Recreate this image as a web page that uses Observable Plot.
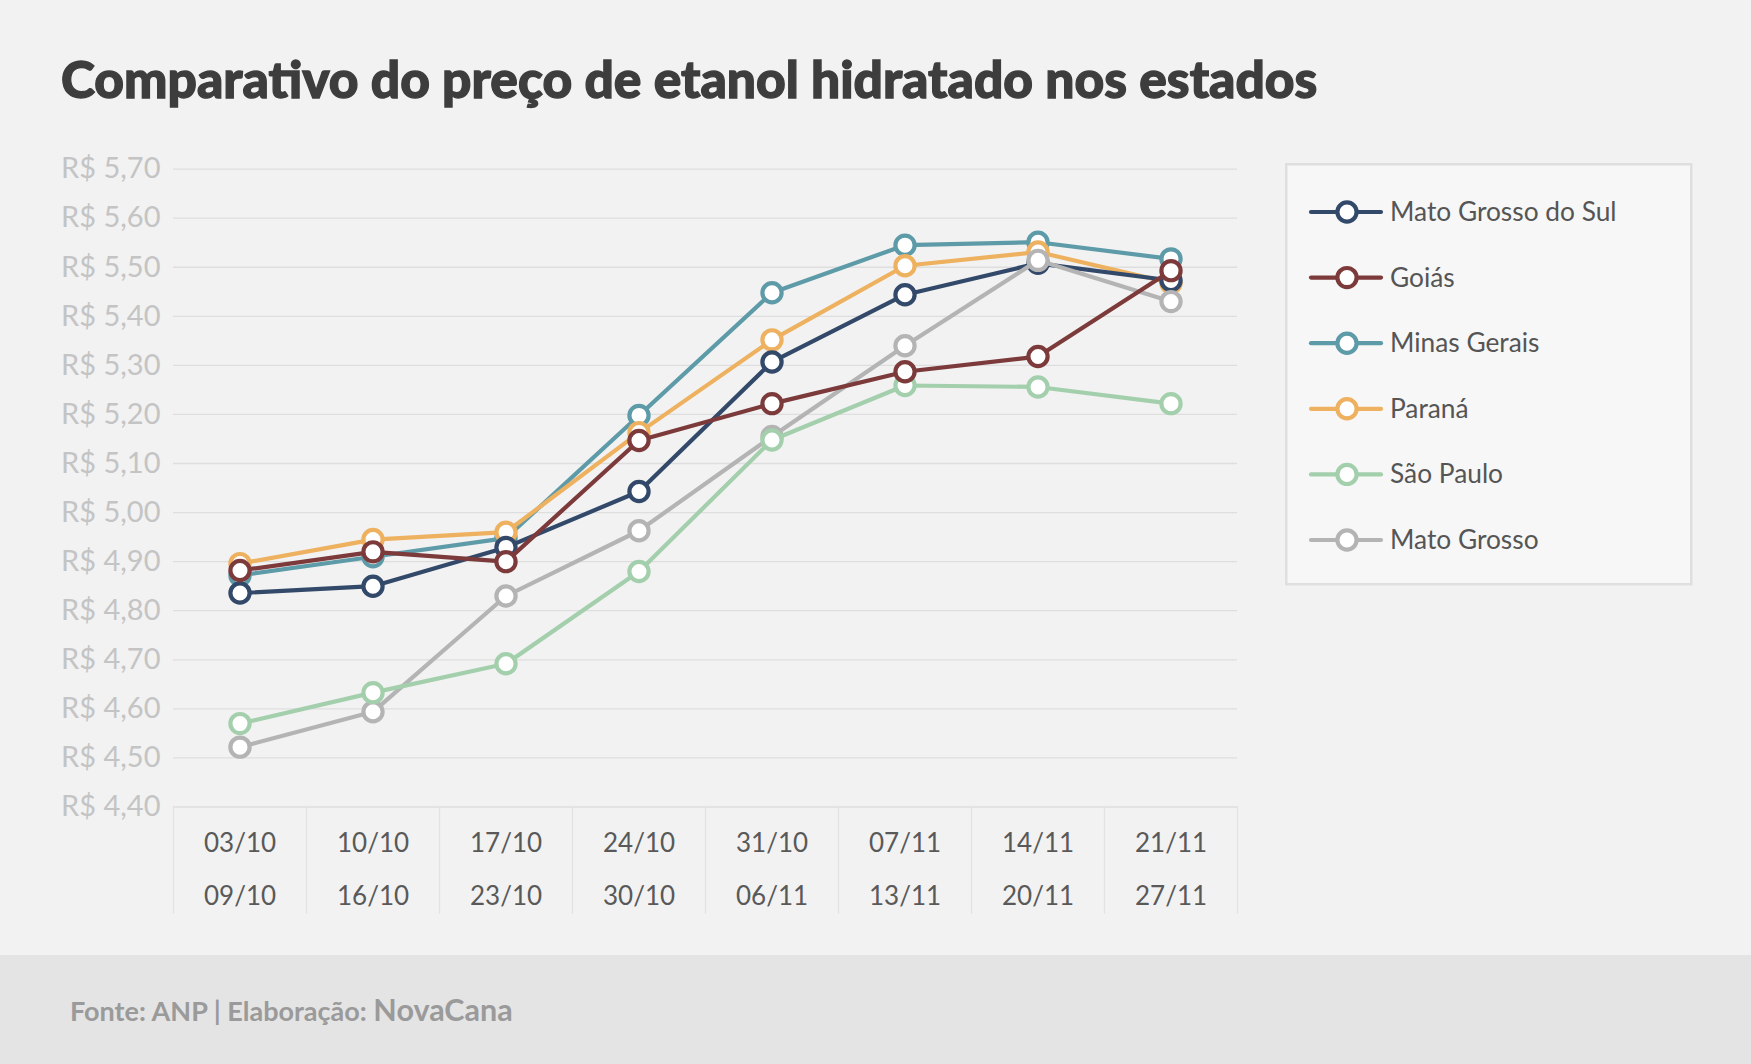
<!DOCTYPE html>
<html lang="pt-BR">
<head>
<meta charset="utf-8">
<title>Comparativo do preço de etanol hidratado nos estados</title>
<script src="https://cdn.jsdelivr.net/npm/d3@7"></script>
<script src="https://cdn.jsdelivr.net/npm/@observablehq/plot@0.6"></script>
<style>
  html, body { margin: 0; padding: 0; background: #f2f2f2; }
  #page { position: relative; width: 1751px; height: 1064px; background: #f2f2f2; overflow: hidden; font-family: Lato, "Open Sans", sans-serif; }
  #title { position: absolute; left: 61px; top: 53px; margin: 0; font-size: 51.5px; line-height: 1; font-weight: 900; color: #3d3d3d; white-space: nowrap; -webkit-text-stroke: 1.3px #3d3d3d; }
  #chart { position: absolute; left: 0; top: 0; }
  #legend { position: absolute; left: 1285px; top: 163px; }
  #footer { position: absolute; left: 0; top: 955px; width: 1751px; height: 109px; background: #e4e4e4; }
  #footer svg { position: absolute; left: 0; top: 0; }
</style>
</head>
<body>
<div id="page">
  <h1 id="title">Comparativo do preço de etanol hidratado nos estados</h1>
  <div id="chart"></div>
  <div id="legend"></div>
  <div id="footer"></div>
</div>
<script>
// Weekly survey periods (start / end of each week)
const periodStart = ["03/10", "10/10", "17/10", "24/10", "31/10", "07/11", "14/11", "21/11"];
const periodEnd   = ["09/10", "16/10", "23/10", "30/10", "06/11", "13/11", "20/11", "27/11"];

// Average hydrated ethanol price per state (R$/litre)
const matoGrossoDoSul = [4.836, 4.850, 4.929, 5.043, 5.307, 5.444, 5.508, 5.473];
const goias           = [4.882, 4.920, 4.900, 5.147, 5.222, 5.287, 5.318, 5.493];
const minasGerais     = [4.872, 4.910, 4.948, 5.198, 5.448, 5.545, 5.551, 5.517];
const parana          = [4.896, 4.945, 4.960, 5.163, 5.352, 5.503, 5.531, 5.468];
const saoPaulo        = [4.570, 4.633, 4.692, 4.880, 5.148, 5.259, 5.256, 5.222];
const matoGrosso      = [4.522, 4.594, 4.830, 4.963, 5.155, 5.340, 5.514, 5.430];

// Y axis ticks
const yTicks = [4.40, 4.50, 4.60, 4.70, 4.80, 4.90, 5.00, 5.10, 5.20, 5.30, 5.40, 5.50, 5.60, 5.70];

// Series in legend order
const series = [
  {name: "Mato Grosso do Sul", values: matoGrossoDoSul, color: "#33496a"},
  {name: "Goiás",              values: goias,           color: "#7c3a3b"},
  {name: "Minas Gerais",       values: minasGerais,     color: "#5e9ba8"},
  {name: "Paraná",             values: parana,          color: "#edb15f"},
  {name: "São Paulo",          values: saoPaulo,        color: "#a3cfac"},
  {name: "Mato Grosso",        values: matoGrosso,      color: "#b4b4b4"}
];
// Stacking order of the series on the chart (first = bottom)
const drawOrder = ["Minas Gerais", "Paraná", "Mato Grosso do Sul", "Mato Grosso", "São Paulo", "Goiás"];

// Layout
const W = 1751, H = 955;
const margin = {left: 173, right: 514, top: 168.6, bottom: 148.5};
const frameHeight = H - margin.top - margin.bottom;
const axisBandDepth = 107;
const lineWidth = 4.2, markerR = 9.6, markerStroke = 4.2;

const idx = d3.range(periodStart.length);
const edges = d3.range(periodStart.length + 1).map(i => i - 0.5);
const fmtBRL = v => "R$ " + v.toFixed(2).replace(".", ",");

const seriesMarks = drawOrder.flatMap(name => {
  const s = series.find(d => d.name === name);
  const rows = s.values.map((v, i) => ({i, v}));
  return [
    Plot.line(rows, {x: "i", y: "v", stroke: s.color, strokeWidth: lineWidth, curve: "linear"}),
    Plot.dot(rows, {x: "i", y: "v", r: markerR, fill: "#ffffff", stroke: s.color, strokeWidth: markerStroke})
  ];
});

const chart = Plot.plot({
  width: W,
  height: H,
  marginLeft: margin.left,
  marginRight: margin.right,
  marginTop: margin.top,
  marginBottom: margin.bottom,
  style: {background: "transparent", fontFamily: "Lato, sans-serif", overflow: "visible"},
  x: {type: "linear", domain: [-0.5, periodStart.length - 0.5], axis: null},
  y: {domain: [yTicks[0], yTicks[yTicks.length - 1]], axis: null},
  marks: [
    // horizontal gridlines (the lowest one is the baseline)
    Plot.ruleY(yTicks, {stroke: "#dedede", strokeWidth: 1.3}),
    // vertical separators between the week columns under the plot
    Plot.ruleX(edges, {x: d => d, insetTop: frameHeight, insetBottom: -axisBandDepth, stroke: "#e2e2e2", strokeWidth: 1.3}),
    // y tick labels
    Plot.text(yTicks, {y: d => d, frameAnchor: "left", textAnchor: "end", dx: -13, text: fmtBRL, fill: "#c4c4c4", fontSize: 29, lineAnchor: "middle"}),
    // week labels, two lines
    Plot.text(idx, {x: d => d, frameAnchor: "bottom", dy: 37, text: i => periodStart[i], fill: "#595959", fontSize: 26, lineAnchor: "middle"}),
    Plot.text(idx, {x: d => d, frameAnchor: "bottom", dy: 90, text: i => periodEnd[i], fill: "#595959", fontSize: 26, lineAnchor: "middle"}),
    ...seriesMarks
  ]
});
document.getElementById("chart").appendChild(chart);

// Legend box
const lg = d3.select("#legend").append("svg")
  .attr("width", 408).attr("height", 424)
  .style("font-family", "Lato, sans-serif");
lg.append("rect")
  .attr("x", 1.25).attr("y", 1.25).attr("width", 405).attr("height", 420)
  .attr("fill", "#f7f7f7").attr("stroke", "#dfdfdf").attr("stroke-width", 2.5);
const rowH = 65.6, row0 = 49;
const item = lg.selectAll("g.item").data(series).join("g")
  .attr("class", "item")
  .attr("transform", (d, i) => `translate(0,${row0 + i * rowH})`);
item.append("line")
  .attr("x1", 26).attr("x2", 96).attr("y1", 0).attr("y2", 0)
  .attr("stroke", d => d.color).attr("stroke-width", lineWidth).attr("stroke-linecap", "round");
item.append("circle")
  .attr("cx", 62).attr("cy", 0).attr("r", markerR)
  .attr("fill", "#ffffff").attr("stroke", d => d.color).attr("stroke-width", markerStroke);
item.append("text")
  .attr("x", 105).attr("y", 0).attr("dy", "0.34em")
  .attr("font-size", 26.3).attr("fill", "#555555")
  .text(d => d.name);

// Footer with source
const ft = d3.select("#footer").append("svg")
  .attr("width", 1751).attr("height", 109)
  .style("font-family", "Lato, sans-serif");
const src = ft.append("text").attr("x", 70).attr("y", 66).attr("fill", "#9a9a9a").attr("font-weight", 700);
src.append("tspan").attr("font-size", 27).text("Fonte: ANP | Elaboração: ");
src.append("tspan").attr("font-size", 30.5).text("NovaCana");
</script>
</body>
</html>
